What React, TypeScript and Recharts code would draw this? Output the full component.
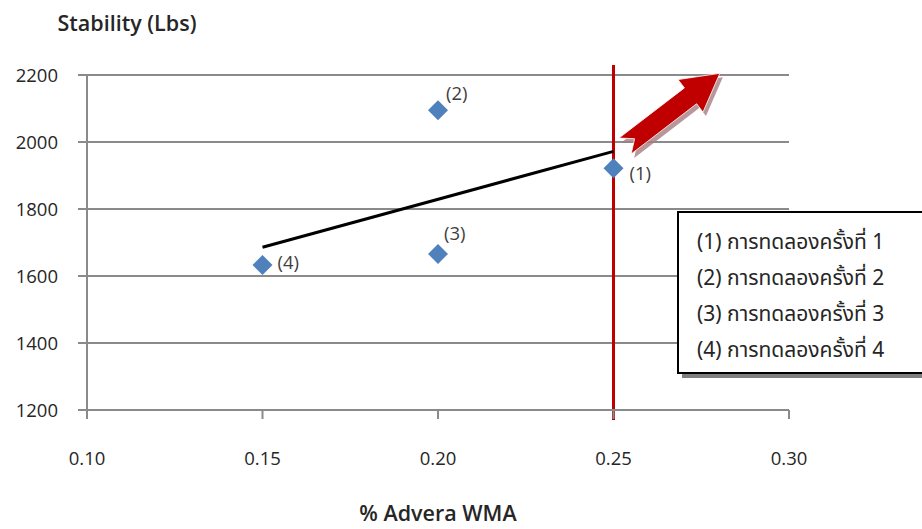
import React from 'react';
import {
  ScatterChart,
  Scatter,
  XAxis,
  YAxis,
  CartesianGrid,
  ReferenceLine,
  ZAxis,
} from 'recharts';

// ---- data ----
const trialX = [0.25, 0.2, 0.2, 0.15];
const trialStability = [1922, 2095, 1666, 1633];
const trialLabels = ['(1)', '(2)', '(3)', '(4)'];

const trendX = [0.15, 0.25];
const trendStability = [1686, 1972];

const limitX = 0.25;
const limitSpan = [1170, 2230];

const arrowFrom = { x: 0.2533, y: 1988 };
const arrowTo = { x: 0.2803, y: 2205 };

const xTicks = [0.1, 0.15, 0.2, 0.25, 0.3];
const yTicks = [1200, 1400, 1600, 1800, 2000, 2200];

const legendItems = [
  '(1) การทดลองครั้งที่ 1',
  '(2) การทดลองครั้งที่ 2',
  '(3) การทดลองครั้งที่ 3',
  '(4) การทดลองครั้งที่ 4',
];

// ---- styles ----
const FONT = '"Open Sans", "Noto Sans", sans-serif';
const THAI_FONT = '"Noto Sans Thai", "Tahoma", "Noto Sans", sans-serif';
const GRID = '#8a8a8a';
const BLUE = '#4F81BD';
const RED = '#C00000';
const labelOffsets: [number, number][] = [
  [16, 4],
  [8, -18],
  [6, -21],
  [15, -3],
];

const trialData = trialX.map((x, i) => ({ x, y: trialStability[i], label: trialLabels[i] }));
const trendData = trendX.map((x, i) => ({ x, y: trendStability[i] }));

const Diamond = (props: any) => {
  const { cx, cy, index } = props;
  if (cx == null || cy == null) return <g />;
  const r = 10;
  const [dx, dy] = labelOffsets[index] || [10, 0];
  return (
    <g>
      <polygon
        points={`${cx},${cy - r} ${cx + r},${cy} ${cx},${cy + r} ${cx - r},${cy}`}
        fill={BLUE}
      />
      <text
        x={cx + dx}
        y={cy + dy}
        dominantBaseline="central"
        fontFamily={FONT}
        fontSize={18.5}
        fill="#404040"
      >
        {props.payload.label}
      </text>
    </g>
  );
};

const BlockArrow = (props: any) => {
  const { x1, y1, x2, y2 } = props;
  if ([x1, y1, x2, y2].some((v) => v == null || isNaN(v))) return <g />;
  const dx = x2 - x1;
  const dy = y2 - y1;
  const L = Math.sqrt(dx * dx + dy * dy);
  const ux = dx / L;
  const uy = dy / L;
  const nx = -uy;
  const ny = ux;
  const shaft = 10;
  const head = 20.5;
  const headLen = 37;
  const notch = 12;
  const local: [number, number][] = [
    [0, -shaft],
    [L - headLen, -shaft],
    [L - headLen, -head],
    [L, 0],
    [L - headLen, head],
    [L - headLen, shaft],
    [0, shaft],
    [notch, 0],
  ];
  const pts = (ox: number, oy: number) =>
    local
      .map(([t, s]) => `${x1 + ux * t + nx * s + ox},${y1 + uy * t + ny * s + oy}`)
      .join(' ');
  return (
    <g>
      <polygon points={pts(3, 4)} fill="#a67c80" opacity={0.8} />
      <polygon points={pts(0, 0)} fill={RED} stroke="#ffffff" strokeWidth={0.8} />
    </g>
  );
};

const NoShape = () => <g />;

export default function App() {
  return (
    <div
      style={{
        position: 'absolute',
        left: 0,
        top: 0,
        width: 922,
        height: 529,
        overflow: 'hidden',
        background: '#fff',
      }}
    >
      <ScatterChart
        width={922}
        height={529}
        margin={{ top: 75, right: 133, bottom: 59, left: 27 }}
      >
        <CartesianGrid horizontal vertical={false} stroke={GRID} strokeWidth={2} />
        <XAxis
          type="number"
          dataKey="x"
          domain={[0.1, 0.3]}
          ticks={xTicks}
          tickFormatter={(v: number) => v.toFixed(2)}
          height={60}
          tickSize={9}
          tickMargin={33}
          axisLine={{ stroke: GRID, strokeWidth: 2 }}
          tickLine={{ stroke: GRID, strokeWidth: 2 }}
          tick={{ fill: '#262626', fontSize: 18.5, fontFamily: FONT }}
          allowDataOverflow
          label={{
            value: '% Advera WMA',
            position: 'bottom',
            offset: 36,
            fill: '#262626',
            fontSize: 21.5,
            fontWeight: 600,
            fontFamily: FONT,
          }}
        />
        <YAxis
          type="number"
          dataKey="y"
          domain={[1200, 2200]}
          ticks={yTicks}
          width={60}
          tickSize={9}
          tickMargin={20}
          axisLine={{ stroke: GRID, strokeWidth: 2 }}
          tickLine={{ stroke: GRID, strokeWidth: 2 }}
          tick={{ fill: '#262626', fontSize: 18.5, fontFamily: FONT }}
          allowDataOverflow
          label={{
            value: 'Stability (Lbs)',
            position: 'top',
            offset: 44,
            dx: 70,
            fill: '#262626',
            fontSize: 21.5,
            fontWeight: 600,
            fontFamily: FONT,
          }}
        />
        <ZAxis range={[200, 200]} />
        <Scatter data={trialData} shape={Diamond} isAnimationActive={false} />
        <Scatter
          data={trendData}
          line={{ stroke: '#000', strokeWidth: 3 }}
          shape={NoShape}
          isAnimationActive={false}
        />
        <ReferenceLine
          segment={[
            { x: limitX, y: limitSpan[0] },
            { x: limitX, y: limitSpan[1] },
          ]}
          stroke={RED}
          strokeWidth={3}
          ifOverflow="visible"
        />
        <ReferenceLine
          segment={[arrowFrom, arrowTo]}
          ifOverflow="visible"
          shape={BlockArrow}
        />
      </ScatterChart>
      <div
        style={{
          position: 'absolute',
          left: 677,
          top: 211,
          width: 330,
          height: 163,
          boxSizing: 'border-box',
          border: '2px solid #000',
          background: '#fff',
          boxShadow: '5px 4px 0 #7f7f7f',
          padding: '12px 0 0 18px',
          fontFamily: THAI_FONT,
          fontSize: 21,
          color: '#262626',
        }}
      >
        {legendItems.map((t) => (
          <div key={t} style={{ height: 36, lineHeight: '36px', whiteSpace: 'nowrap' }}>
            {t}
          </div>
        ))}
      </div>
    </div>
  );
}
